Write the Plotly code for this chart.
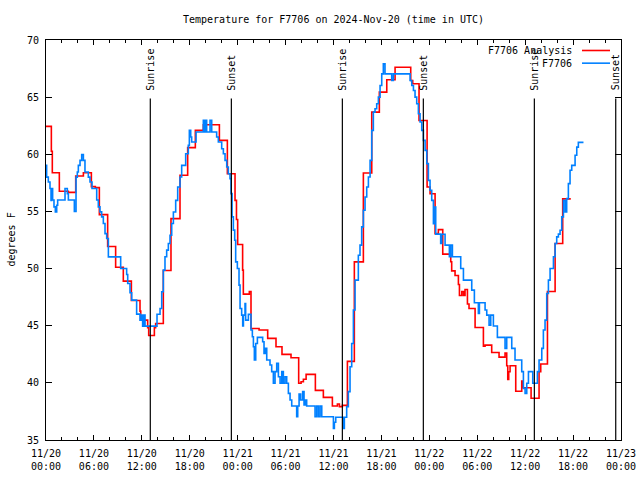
import pandas as pd
import plotly.graph_objects as go

start = pd.Timestamp("2024-11-20 00:00")

# Analysis series (change points): hours since 11/20 00:00 UTC, degrees F
analysis_hours = [0.0, 0.67, 0.79, 1.67, 2.80, 3.72, 4.68, 5.68, 6.18, 6.68, 7.72, 8.72, 9.68,
                  10.69, 11.77, 11.86, 12.73, 12.86, 13.57, 13.73, 14.69, 15.65, 16.78, 17.74,
                  18.70, 19.70, 21.71, 22.71, 23.67, 23.85, 24.0, 24.62, 24.71, 25.46, 25.67,
                  26.68, 27.76, 28.80, 29.55, 30.68, 31.64, 31.94, 32.23, 32.57, 33.73, 34.73,
                  35.86, 36.49, 36.74, 37.11, 37.74, 38.61, 39.74, 40.79, 41.74, 42.67, 43.71,
                  45.67, 45.92, 46.71, 47.72, 48.09, 48.72, 49.13, 49.68, 50.68, 50.80, 51.22,
                  51.64, 51.77, 52.06, 52.27, 52.47, 52.77, 52.97, 53.73, 54.77, 54.98, 55.81,
                  56.73, 57.48, 57.69, 57.82, 57.94, 58.11, 58.82, 59.57, 59.70, 60.74, 61.74,
                  61.95, 62.79, 63.75, 64.70, 65.71]
analysis_temps = [62.44, 60.26, 58.39, 56.76, 56.67, 58.10, 58.39, 57.17, 57.08, 54.72, 51.93,
                  50.12, 48.90, 47.21, 46.28, 45.49, 44.82, 44.15, 44.82, 45.20, 49.83, 54.37,
                  58.16, 60.58, 62.09, 62.59, 61.22, 58.30, 55.97, 54.30, 52.10, 49.86, 47.76,
                  48.00, 44.76, 44.62, 43.89, 43.16, 42.49, 42.20, 39.96, 40.10, 40.31, 40.74,
                  39.34, 38.73, 37.98, 38.15, 37.92, 38.03, 41.88, 50.59, 58.36, 63.69, 65.44,
                  66.52, 67.62, 66.46, 66.17, 62.96, 57.14, 56.55, 53.06, 53.41, 51.26, 50.60,
                  49.80, 49.40, 48.60, 47.64, 48.00, 47.64, 48.17, 46.90, 46.50, 44.85, 43.20,
                  43.30, 42.66, 42.25, 42.60, 41.50, 40.30, 40.97, 41.50, 39.26, 40.16, 39.57,
                  38.65, 40.97, 41.65, 47.99, 52.19, 56.10, 56.10]

# Observed series (change points)
obs_hours = [0.0, 0.08, 0.29, 0.5, 0.63, 0.71, 0.83, 1.0, 1.17, 1.34, 1.46, 2.38, 2.67, 2.8,
             3.55, 3.76, 3.92, 4.05, 4.26, 4.47, 4.68, 4.88, 5.3, 5.51, 5.76, 6.35, 6.55, 6.76,
             6.97, 7.18, 7.39, 7.6, 7.81, 9.35, 10.1, 10.23, 10.52, 10.73, 11.35, 11.77, 11.98,
             12.1, 12.23, 12.4, 13.9, 14.28, 14.49, 14.69, 14.9, 15.11, 15.32, 15.53, 15.74,
             15.95, 16.24, 16.49, 16.78, 16.99, 17.49, 17.82, 17.95, 18.12, 18.24, 18.79, 19.7,
             19.83, 20.0, 20.12, 20.54, 20.75, 21.37, 21.58, 22.0, 22.21, 22.42, 22.63, 22.83,
             23.04, 23.17, 23.3, 23.46, 23.63, 23.75, 23.96, 24.17, 24.3, 24.5, 24.63, 24.72,
             24.92, 25.0, 25.34, 25.67, 25.84, 25.97, 26.09, 26.26, 26.47, 27.13, 27.3, 27.47,
             27.64, 28.05, 28.26, 28.47, 28.68, 28.89, 29.1, 29.31, 29.52, 29.72, 29.93, 30.14,
             30.35, 30.56, 30.77, 31.39, 31.52, 31.69, 31.89, 32.14, 32.31, 32.48, 32.64, 33.69,
             33.9, 34.11, 34.32, 34.53, 35.99, 36.11, 36.28, 37.24, 37.36, 37.65, 37.86, 38.07,
             38.28, 38.49, 38.7, 39.11, 39.32, 39.53, 39.74, 39.95, 40.16, 40.37, 40.58, 40.79,
             40.99, 41.2, 41.41, 41.62, 41.83, 42.04, 42.24, 42.45, 43.29, 43.5, 45.59, 45.8,
             46.01, 46.21, 46.42, 46.63, 46.84, 47.05, 47.26, 47.47, 47.68, 47.88, 48.09, 48.3,
             48.51, 48.72, 48.8, 49.42, 49.55, 49.97, 50.51, 50.68, 50.89, 51.93, 52.27, 53.31,
             53.64, 54.14, 54.27, 54.98, 55.19, 55.48, 55.69, 56.02, 56.52, 57.48, 57.69, 58.32,
             58.73, 59.57, 59.78, 59.99, 60.2, 60.41, 60.95, 61.53, 61.74, 62.08, 62.28, 62.49,
             62.7, 62.91, 63.12, 63.54, 63.75, 63.95, 64.16, 64.37, 64.58, 64.79, 65.0, 65.2,
             65.41, 65.62, 65.83, 66.25, 66.46, 66.66, 67.3]
obs_temps = [59.03, 58.0, 57.58, 57.0, 55.97, 57.0, 56.0, 55.4, 54.96, 55.54, 56.0, 57.0, 56.56,
             56.0, 55.0, 58.0, 58.45, 59.03, 59.47, 59.97, 59.47, 58.45, 58.0, 57.58, 57.0, 56.0,
             55.4, 54.96, 54.52, 53.94, 53.06, 52.63, 51.02, 50.0, 49.48, 48.69, 47.88, 47.24,
             46.01, 45.49, 45.93, 44.96, 45.93, 44.96, 46.0, 46.51, 47.97, 49.86, 51.03, 51.61,
             52.19, 52.92, 53.94, 54.95, 55.97, 57.14, 58.01, 59.03, 60.05, 60.78, 62.09, 61.51,
             61.07, 61.95, 62.97, 61.95, 62.97, 61.95, 62.97, 61.95, 61.51, 61.07, 60.49, 60.05,
             59.47, 58.89, 58.3, 57.87, 56.56, 54.52, 53.36, 52.48, 50.59, 50.0, 48.55, 46.51,
             45.93, 44.97, 45.93, 46.95, 45.49, 45.99, 44.62, 44.04, 43.16, 42.0, 43.45, 43.98,
             43.6, 42.58, 43.02, 42.0, 41.56, 40.98, 39.96, 40.98, 41.71, 40.54, 39.96, 40.98,
             39.96, 40.54, 39.96, 39.08, 38.5, 37.98, 37.04, 37.98, 39.03, 38.5, 39.23, 38.06,
             38.5, 37.98, 37.04, 37.98, 37.04, 37.98, 37.04, 36.02, 36.55, 36.99, 36.02, 36.99,
             37.92, 39.23, 41.41, 43.45, 46.37, 48.99, 51.17, 52.05, 53.65, 55.1, 56.26, 57.14,
             58.01, 59.47, 62.09, 63.69, 63.98, 64.42, 65.0, 66.02, 67.04, 67.91, 67.04, 66.46,
             67.04, 66.46, 66.02, 65.58, 65.0, 64.42, 63.55, 62.82, 62.09, 61.22, 60.34, 59.18,
             57.72, 56.85, 55.97, 53.93, 55.39, 53.01, 52.19, 53.0, 52.05, 51.03, 52.05, 51.03,
             50.0, 48.99, 48.11, 47.01, 46.07, 47.01, 46.37, 45.93, 45.05, 45.93, 44.97, 43.98,
             43.02, 43.98, 43.02, 42.0, 40.98, 39.52, 39.08, 39.96, 40.98, 39.96, 40.98, 42.0,
             43.02, 44.62, 45.49, 47.82, 48.99, 50.0, 51.03, 52.19, 52.77, 53.01, 53.35, 54.52,
             55.97, 54.95, 56.12, 57.43, 58.6, 59.03, 59.91, 60.63, 61.04, 61.04]

sun_hours = [13.06, 23.21, 37.11, 47.25, 61.15, 71.34]
sun_labels = ["Sunrise", "Sunset", "Sunrise", "Sunset", "Sunrise", "Sunset"]

series_names = ["F7706 Analysis", "F7706"]
series_colors = ["#ff0000", "#0080ff"]


def to_times(hours):
    return [start + pd.Timedelta(hours=h) for h in hours]


FONT = "DejaVu Sans Mono"

fig = go.Figure()
fig.add_trace(go.Scatter(x=to_times(analysis_hours), y=analysis_temps, mode="lines",
                         line=dict(color=series_colors[0], width=1.6, shape="hv"),
                         name=series_names[0], showlegend=False, hoverinfo="skip"))
fig.add_trace(go.Scatter(x=to_times(obs_hours), y=obs_temps, mode="lines",
                         line=dict(color=series_colors[1], width=1.6, shape="hv"),
                         name=series_names[1], showlegend=False, hoverinfo="skip"))

# sunrise / sunset markers
line_top = (440 - 98) / 400.5
label_bottom = (440 - 92) / 400.5
for h, lab in zip(sun_hours, sun_labels):
    t = start + pd.Timedelta(hours=h)
    fig.add_shape(type="line", xref="x", yref="paper", x0=t, x1=t, y0=0, y1=line_top,
                  line=dict(color="black", width=1.2))
    fig.add_annotation(x=t, xref="x", y=label_bottom, yref="paper", text=lab,
                       textangle=-90, showarrow=False, xanchor="center", yanchor="bottom",
                       font=dict(family=FONT, size=10, color="black"))

# legend drawn gnuplot-style: text on the left, sample on the right
PW = 575.0
PH = 400.5
for i, (nm, col) in enumerate(zip(series_names, series_colors)):
    ypx = 50 + i * 12.7
    yp = (440 - ypx) / PH
    fig.add_annotation(x=(574 - 46) / PW, xref="paper", y=yp, yref="paper", text=nm,
                       showarrow=False, xanchor="right", yanchor="middle",
                       font=dict(family=FONT, size=10, color="black"))
    fig.add_shape(type="line", xref="paper", yref="paper", x0=(582 - 46) / PW,
                  x1=(610 - 46) / PW, y0=yp, y1=yp, line=dict(color=col, width=1.6))

# y axis title
fig.add_annotation(x=(10.5 - 46) / PW, xref="paper", y=0.5, yref="paper", text="degrees F",
                   textangle=-90, showarrow=False, xanchor="center", yanchor="middle",
                   font=dict(family=FONT, size=10, color="black"))

fig.update_layout(
    width=640, height=480,
    margin=dict(l=46, r=19, t=40, b=40, pad=0, autoexpand=False),
    paper_bgcolor="white", plot_bgcolor="white",
    font=dict(family=FONT, size=10, color="black"),
    title=dict(text="Temperature for F7706 on 2024-Nov-20 (time in UTC)",
               x=(333.5) / 640, xanchor="center", xref="container",
               y=1 - 19 / 480, yanchor="middle", yref="container",
               font=dict(family=FONT, size=10, color="black")),
    showlegend=False,
    hovermode=False,
)
fig.update_xaxes(
    type="date",
    automargin=False,
    range=[start, start + pd.Timedelta(hours=72)],
    tickformat="%m/%d<br>%H:%M",
    dtick=6 * 3600 * 1000,
    tick0=start,
    ticks="inside", ticklen=5, tickwidth=1, tickcolor="black",
    minor=dict(dtick=2 * 3600 * 1000, ticks="inside", ticklen=3, tickcolor="black",
               showgrid=False),
    showline=True, linecolor="black", linewidth=1, mirror="ticks",
    showgrid=False, zeroline=False,
    ticklabelstandoff=4,
    tickfont=dict(family=FONT, size=10, color="black"),
)
fig.update_yaxes(
    automargin=False,
    range=[35, 70],
    dtick=5, tick0=35,
    ticks="inside", ticklen=6, tickwidth=1, tickcolor="black",
    showline=True, linecolor="black", linewidth=1, mirror="ticks",
    showgrid=False, zeroline=False,
    ticklabelstandoff=4,
    tickfont=dict(family=FONT, size=10, color="black"),
)

fig.write_html("out.html",
               config={"displayModeBar": False, "staticPlot": True},
               post_script="document.body.style.margin='0';document.body.style.overflow='hidden';")
